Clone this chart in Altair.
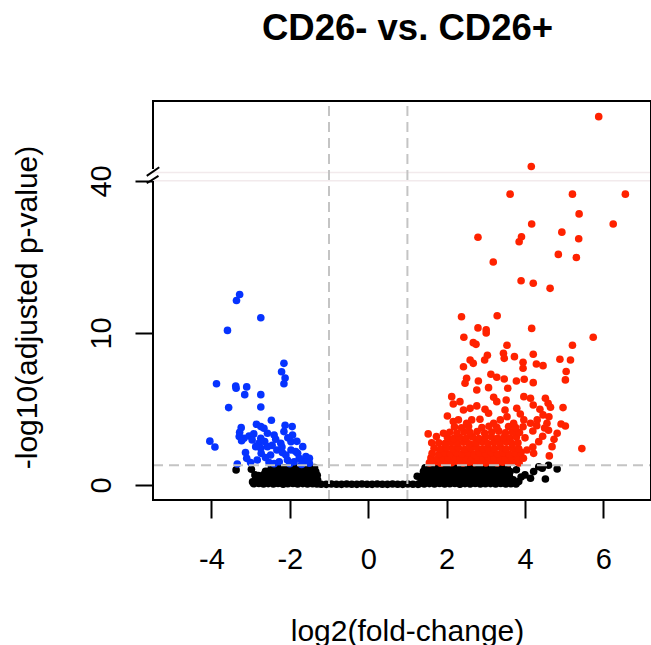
import altair as alt
import pandas as pd

# ---------------- text ----------------
title_text = "CD26- vs. CD26+"
x_label = "log2(fold-change)"
y_label = "-log10(adjusted p-value)"

# ---------------- axes / cut-offs ----------------
x_ticks = [-4, -2, 0, 2, 4, 6]
y_tick_positions = [0, 10, 20]          # positions on the broken axis
y_tick_labels = ["0", "10", "40"]
fc_cut = [-1, 1]
p_cut = 1.301                            # -log10(0.05)

# ---------------- data: (log2FC, -log10 padj) ----------------
ns_left = [
    (-2.92, 0.08), (-2.79, 0.10), (-2.67, 0.06), (-2.55, 0.09), (-2.42, 0.07), (-2.30, 0.10), (-2.17, 0.05),
    (-2.05, 0.08), (-1.92, 0.10), (-1.80, 0.06), (-1.67, 0.09), (-1.55, 0.07), (-1.42, 0.08), (-1.31, 0.06),
    (-2.88, 0.34), (-2.76, 0.38), (-2.63, 0.33), (-2.50, 0.37), (-2.38, 0.35), (-2.25, 0.39), (-2.12, 0.34),
    (-2.00, 0.36), (-1.87, 0.38), (-1.75, 0.33), (-1.62, 0.37), (-1.49, 0.35), (-1.37, 0.36), (-1.29, 0.32),
    (-2.80, 0.62), (-2.67, 0.66), (-2.54, 0.60), (-2.41, 0.64), (-2.28, 0.63), (-2.15, 0.67), (-2.02, 0.61),
    (-1.90, 0.65), (-1.77, 0.62), (-1.64, 0.66), (-1.51, 0.63), (-1.39, 0.60), (-1.30, 0.64),
    (-2.62, 0.90), (-2.49, 0.93), (-2.36, 0.88), (-2.23, 0.92), (-2.10, 0.90), (-1.97, 0.94), (-1.84, 0.89),
    (-1.71, 0.92), (-1.58, 0.90), (-1.46, 0.93), (-1.34, 0.88),
    (-2.47, 1.13), (-2.31, 1.16), (-2.14, 1.12), (-1.97, 1.15), (-1.81, 1.14), (-1.64, 1.17), (-1.49, 1.12),
    (-1.37, 1.15),
    (-3.37, 0.99), (-2.98, 1.03), (-2.89, 0.66), (-2.57, 0.88), (-2.95, 0.20),
]
ns_band = [
    (-1.20, 0.05), (-1.07, 0.04), (-0.94, 0.06), (-0.81, 0.05), (-0.68, 0.04), (-0.55, 0.06), (-0.42, 0.05),
    (-0.29, 0.04), (-0.16, 0.06), (-0.03, 0.05), (0.10, 0.04), (0.23, 0.06), (0.36, 0.05), (0.49, 0.04),
    (0.62, 0.06), (0.75, 0.05), (0.88, 0.04), (1.01, 0.06), (1.14, 0.05), (1.27, 0.04),
]
ns_right = [
    (1.30, 0.08), (1.43, 0.06), (1.56, 0.09), (1.69, 0.07), (1.82, 0.10), (1.95, 0.06), (2.08, 0.08),
    (2.21, 0.10), (2.34, 0.05), (2.47, 0.09), (2.60, 0.07), (2.73, 0.10), (2.86, 0.06), (2.99, 0.08),
    (3.12, 0.09), (3.25, 0.06), (3.38, 0.10), (3.51, 0.07), (3.64, 0.08), (3.77, 0.06),
    (1.36, 0.36), (1.49, 0.33), (1.62, 0.38), (1.75, 0.35), (1.88, 0.37), (2.01, 0.34), (2.14, 0.38),
    (2.27, 0.35), (2.40, 0.33), (2.53, 0.37), (2.66, 0.36), (2.79, 0.34), (2.92, 0.38), (3.05, 0.35),
    (3.18, 0.37), (3.31, 0.33), (3.44, 0.36), (3.57, 0.38), (3.70, 0.34),
    (1.39, 0.63), (1.52, 0.60), (1.65, 0.66), (1.78, 0.62), (1.91, 0.64), (2.04, 0.61), (2.17, 0.65),
    (2.30, 0.63), (2.43, 0.60), (2.56, 0.66), (2.69, 0.62), (2.82, 0.64), (2.95, 0.61), (3.08, 0.65),
    (3.21, 0.63), (3.34, 0.60), (3.47, 0.64), (3.60, 0.62),
    (1.41, 0.90), (1.54, 0.93), (1.67, 0.88), (1.80, 0.92), (1.93, 0.90), (2.06, 0.94), (2.19, 0.89),
    (2.32, 0.92), (2.45, 0.90), (2.58, 0.93), (2.71, 0.88), (2.84, 0.91), (2.97, 0.90), (3.10, 0.93),
    (3.23, 0.89), (3.36, 0.92), (3.49, 0.90), (3.62, 0.88),
    (1.45, 1.13), (1.60, 1.16), (1.75, 1.12), (1.90, 1.15), (2.05, 1.14), (2.20, 1.17), (2.35, 1.12),
    (2.50, 1.15), (2.65, 1.13), (2.80, 1.16), (2.95, 1.12), (3.10, 1.15), (3.25, 1.14), (3.40, 1.16),
    (3.55, 1.12),
    (1.25, 0.57), (3.84, 0.22), (3.90, 0.52), (4.00, 0.66), (4.14, 0.44), (4.22, 0.88), (4.35, 1.20),
    (4.44, 1.10), (4.52, 0.39), (4.60, 1.30), (4.82, 1.05), (3.78, 1.00),
]

down_pts = [
    (-3.28, 17.6), (-3.36, 16.4), (-2.74, 13.0), (-3.59, 10.5), (-2.15, 8.00), (-2.21, 7.45), (-2.12, 7.04),
    (-2.15, 6.66), (-3.87, 6.66), (-3.38, 6.51), (-3.37, 6.36), (-3.10, 6.45), (-3.15, 5.94), (-2.74, 5.94),
    (-3.56, 5.09), (-2.74, 5.13), (-2.47, 4.26), (-4.04, 2.88), (-3.91, 2.50),
    (-3.24, 3.77), (-3.28, 3.47), (-2.85, 3.99), (-2.74, 3.84), (-2.66, 3.73), (-2.12, 3.93), (-1.94, 3.84),
    (-3.29, 3.18), (-3.17, 3.07), (-3.04, 3.22), (-2.92, 3.36), (-2.74, 3.07), (-2.57, 3.40), (-2.40, 3.29),
    (-2.15, 3.51), (-1.93, 3.29), (-3.23, 2.91), (-2.96, 2.96), (-2.79, 2.74), (-2.64, 2.85), (-2.36, 3.01),
    (-2.23, 2.74), (-1.97, 2.85), (-1.82, 2.87), (-1.67, 2.52), (-3.13, 2.13), (-2.74, 2.41), (-2.73, 2.08),
    (-2.49, 1.97), (-2.33, 2.30), (-2.19, 2.13), (-1.97, 2.30), (-1.80, 2.08), (-1.59, 1.86), (-1.50, 1.75),
    (-3.00, 1.47), (-2.83, 1.64), (-2.53, 1.47), (-2.27, 1.53), (-2.06, 1.64), (-1.89, 1.53), (-1.63, 1.53),
    (-3.34, 1.38), (-1.50, 1.43), (-1.76, 1.75), (-2.10, 1.97), (-2.57, 2.52), (-2.87, 2.52),
    (-2.00, 1.40), (-1.70, 1.35), (-2.40, 1.40), (-2.62, 1.80), (-3.10, 1.75), (-2.20, 2.50), (-1.85, 2.20),
    (-2.45, 2.60), (-2.05, 3.10),
]

up_high = [
    (5.88, 58.4), (4.16, 42.0),
    (3.62, 37.4), (5.21, 37.4), (6.56, 37.4), (5.38, 33.5), (4.17, 31.5), (6.25, 31.5), (2.80, 28.9),
    (3.91, 29.0), (3.85, 28.0), (4.94, 29.9), (5.37, 28.6), (4.85, 25.5), (5.31, 24.9), (3.19, 24.0),
    (3.90, 20.3), (4.21, 19.8), (4.64, 18.8), (2.38, 13.2), (3.29, 13.4), (2.80, 11.0), (4.17, 10.9),
    (3.01, 10.6),
]
up_mid = [
    (3.01, 10.0), (5.74, 9.72), (2.44, 9.72), (2.68, 9.36), (2.75, 9.25), (3.54, 9.19), (5.21, 9.19),
    (4.21, 8.60), (3.04, 8.53), (2.97, 8.22), (3.45, 8.66), (3.47, 8.33), (3.73, 8.44), (2.60, 8.22),
    (2.68, 8.00), (3.95, 8.07), (3.95, 7.68), (4.29, 7.96), (4.46, 7.85), (4.89, 8.27), (5.16, 8.22),
    (2.43, 7.78), (5.05, 7.46), (5.03, 6.91), (3.13, 7.28), (3.28, 7.09), (3.47, 6.97), (2.81, 6.84),
    (2.51, 7.02), (2.47, 6.69), (3.78, 6.84), (3.98, 6.95), (4.21, 6.73), (2.77, 6.25), (3.07, 6.40),
    (3.56, 6.36), (3.20, 5.77), (3.28, 5.48), (2.13, 5.81), (2.34, 5.48), (2.17, 5.33), (3.52, 5.59),
    (3.97, 5.81), (4.14, 5.70), (4.21, 5.26), (4.52, 5.70), (4.59, 5.37), (4.65, 5.11), (4.97, 5.09),
    (2.43, 4.93), (2.60, 5.04), (2.77, 5.20), (2.02, 4.54), (2.98, 4.98), (3.07, 4.72), (3.49, 4.93),
    (3.54, 4.49), (3.79, 5.04), (3.88, 4.67), (4.38, 4.98), (4.46, 4.61), (4.61, 4.49), (4.92, 4.01),
    (5.03, 3.88), (4.82, 3.40), (2.17, 4.17), (2.30, 4.28), (2.51, 4.06), (2.64, 4.28), (2.85, 4.32),
    (3.20, 4.06), (3.37, 4.28), (3.71, 4.06), (3.97, 4.28), (4.14, 4.06), (4.31, 4.28), (4.56, 4.06),
    (1.53, 3.36), (1.74, 3.18), (1.92, 3.40), (1.62, 2.78), (4.74, 3.00), (4.69, 2.52), (5.45, 2.39),
    (4.62, 1.91), (4.22, 2.08), (4.05, 2.30),
]
up_dense = [
    (1.56, 1.45), (1.70, 1.52), (1.85, 1.43), (1.99, 1.49), (2.13, 1.46), (2.28, 1.54), (2.42, 1.44),
    (2.57, 1.50), (2.71, 1.47), (2.86, 1.53), (3.00, 1.45), (3.14, 1.51), (3.29, 1.44), (3.43, 1.50),
    (3.58, 1.46), (3.72, 1.52), (3.85, 1.44),
    (1.60, 1.78), (1.76, 1.72), (1.90, 1.80), (2.05, 1.75), (2.20, 1.82), (2.34, 1.74), (2.50, 1.79),
    (2.64, 1.71), (2.78, 1.83), (2.93, 1.76), (3.07, 1.80), (3.22, 1.73), (3.36, 1.81), (3.50, 1.77),
    (3.66, 1.74), (3.80, 1.82), (3.96, 1.76),
    (1.63, 2.08), (1.80, 2.02), (1.95, 2.10), (2.10, 2.05), (2.25, 2.12), (2.40, 2.03), (2.55, 2.09),
    (2.70, 2.01), (2.84, 2.11), (2.99, 2.06), (3.14, 2.13), (3.30, 2.04), (3.45, 2.10), (3.60, 2.02),
    (3.75, 2.08), (3.90, 2.14),
    (1.68, 2.42), (1.84, 2.36), (2.00, 2.44), (2.16, 2.38), (2.30, 2.45), (2.46, 2.35), (2.62, 2.41),
    (2.76, 2.47), (2.92, 2.37), (3.06, 2.43), (3.22, 2.39), (3.38, 2.46), (3.52, 2.36), (3.68, 2.42),
    (3.84, 2.38), (4.20, 2.50),
    (1.80, 2.78), (1.96, 2.72), (2.12, 2.80), (2.27, 2.74), (2.43, 2.81), (2.58, 2.71), (2.74, 2.77),
    (2.90, 2.83), (3.05, 2.73), (3.20, 2.79), (3.36, 2.75), (3.52, 2.82), (3.67, 2.72), (3.82, 2.78),
    (4.35, 2.85),
    (2.02, 3.12), (2.18, 3.06), (2.33, 3.14), (2.50, 3.08), (2.66, 3.16), (2.82, 3.05), (2.98, 3.11),
    (3.14, 3.17), (3.30, 3.07), (3.46, 3.13), (3.62, 3.09), (3.78, 3.15), (4.00, 3.10), (4.45, 3.20),
    (2.08, 3.47), (2.26, 3.42), (2.44, 3.50), (2.60, 3.44), (2.78, 3.52), (2.97, 3.41), (3.15, 3.48),
    (3.33, 3.54), (3.50, 3.43), (3.68, 3.49), (3.86, 3.45), (4.20, 3.55), (4.60, 3.60),
    (2.20, 3.82), (2.38, 3.76), (2.56, 3.85), (2.90, 3.78), (3.08, 3.86), (3.28, 3.80), (3.58, 3.84),
    (3.76, 3.77), (3.95, 3.83), (4.30, 3.90), (4.50, 3.75),
]

# ---------------- styling ----------------
FONT = "Liberation Sans"
COL_NS, COL_DOWN, COL_UP = "#000000", "#0633ff", "#ff2200"
GRID_GREY = "#c4c4c4"
DOT = 58

x_dom = [-5.49, 7.214]
y_dom = [-0.99, 25.26]
W, H = 498, 399

# broken y axis: linear to 10, compressed 10-40, gap, then compressed above 40
T_EXPR = ("datum.nlp <= 10 ? datum.nlp : (datum.nlp <= 40 ? 10 + (datum.nlp - 10) / 3 "
          ": 20.55 + (datum.nlp - 40) / 5)")

xs = alt.Scale(domain=x_dom, nice=False, zero=False)
ys = alt.Scale(domain=y_dom, nice=False, zero=False)

label_map = " : ".join(
    f"datum.value == {p} ? '{l}'" for p, l in zip(y_tick_positions, y_tick_labels)
) + " : ''"

x_axis = alt.Axis(
    values=x_ticks, title=x_label, grid=False, domain=False,
    labelExpr="datum.value < 0 ? '-' + abs(datum.value) : '' + datum.value",
    tickSize=18, tickWidth=2, tickColor="black",
    labelFont=FONT, labelFontSize=29, labelColor="black", labelBaseline="alphabetic",
    labelPadding=50, labelFlush=False, labelOverlap=False,
    titleFont=FONT, titleFontSize=30, titleFontWeight="normal", titleColor="black",
    titleX=254, titleY=140, titleBaseline="alphabetic", titleAlign="center",
)
y_axis = alt.Axis(
    values=y_tick_positions, labelExpr=label_map, title=y_label, grid=False, domain=False,
    tickSize=18, tickWidth=2, tickColor="black",
    labelFont=FONT, labelFontSize=29, labelColor="black", labelAngle=270,
    labelAlign="center", labelBaseline="alphabetic", labelPadding=25,
    labelFlush=False, labelOverlap=False,
    titleFont=FONT, titleFontSize=30, titleFontWeight="normal", titleColor="black",
    titleAngle=270, titleX=-117, titleY=206, titleBaseline="alphabetic", titleAlign="center",
)


def frame(points):
    return pd.DataFrame({"lfc": [p[0] for p in points], "nlp": [p[1] for p in points]})


def point_layer(points, color):
    return (
        alt.Chart(frame(points))
        .transform_calculate(t=T_EXPR)
        .mark_circle(size=DOT, color=color, opacity=1)
        .encode(x=alt.X("lfc:Q", scale=xs, axis=x_axis), y=alt.Y("t:Q", scale=ys, axis=y_axis))
    )


def rule_layer(df, **mark):
    return alt.Chart(df).mark_rule(**mark).encode(
        x=alt.X("x:Q", scale=xs, axis=x_axis), x2="x2:Q",
        y=alt.Y("y:Q", scale=ys, axis=y_axis), y2="y2:Q",
    )


ns_layer = point_layer(ns_left + ns_band + ns_right, COL_NS)
down_layer = point_layer(down_pts, COL_DOWN)
up_layer = point_layer(up_dense + up_mid + up_high, COL_UP)

vlines = rule_layer(
    pd.DataFrame({"x": fc_cut, "x2": fc_cut, "y": [y_dom[0]] * 2, "y2": [y_dom[1]] * 2}),
    color=GRID_GREY, strokeWidth=2, strokeDash=[10, 6],
)
hline = rule_layer(
    pd.DataFrame({"x": [x_dom[0]], "x2": [x_dom[1]], "y": [p_cut], "y2": [p_cut]}),
    color=GRID_GREY, strokeWidth=2, strokeDash=[10, 6],
)
gap_lines = rule_layer(
    pd.DataFrame({"x": [x_dom[0]] * 2, "x2": [x_dom[1]] * 2, "y": [20.02, 20.55], "y2": [20.02, 20.55]}),
    color="#f2eaec", strokeWidth=1.5,
)
frame_lines = rule_layer(
    pd.DataFrame({
        "x": [x_dom[0], x_dom[0], x_dom[0], x_dom[0], x_dom[1]],
        "x2": [x_dom[1], x_dom[1], x_dom[0], x_dom[0], x_dom[1]],
        "y": [y_dom[0], y_dom[1], y_dom[0], 20.86, y_dom[0]],
        "y2": [y_dom[0], y_dom[1], 19.93, y_dom[1], y_dom[1]],
    }),
    color="black", strokeWidth=2, strokeCap="square",
)
break_marks = rule_layer(
    pd.DataFrame({"x": [-5.65, -5.65], "x2": [-5.33, -5.35], "y": [20.33, 19.85], "y2": [20.90, 20.33]}),
    color="black", strokeWidth=2,
)

title_layer = (
    alt.Chart(pd.DataFrame({"label": [title_text]}))
    .mark_text(font=FONT, fontSize=36.5, fontWeight="bold", align="center",
               baseline="alphabetic", color="black")
    .encode(x=alt.value(254.5), y=alt.value(-61), text="label:N")
)

chart = (
    alt.layer(gap_lines, ns_layer, down_layer, up_layer, vlines, hline,
              frame_lines, break_marks, title_layer)
    .properties(
        width=W, height=H,
        autosize=alt.AutoSizeParams(type="none"),
        padding={"left": 153, "top": 101, "right": 0, "bottom": 145},
        background="white",
    )
    .configure_view(stroke=None)
)

chart.save("out.html", embed_options={"renderer": "svg", "actions": False})
